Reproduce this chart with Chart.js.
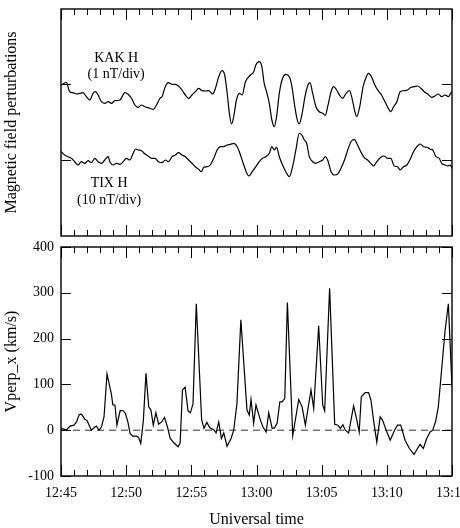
<!DOCTYPE html>
<html><head><meta charset="utf-8">
<script src="https://cdn.jsdelivr.net/npm/chart.js@4.4.1/dist/chart.umd.min.js"></script>
<style>
html,body{margin:0;padding:0;background:#fff;overflow:hidden;}
#wrap{position:relative;width:460px;height:528px;overflow:hidden;background:#fff;}
#c1{position:absolute;left:0;top:0;}
#c2{position:absolute;left:0;top:240px;}
</style></head><body>
<div id="wrap">
<canvas id="c1" width="460" height="240"></canvas>
<canvas id="c2" width="460" height="292"></canvas>
</div>
<script>
// ---- data (time in minutes after 12:45 UT) ----
const timeTickLabels = ['12:45','12:50','12:55','13:00','13:05','13:10','13:15'];
const vTickValues = [-100, 0, 100, 200, 300, 400];

// KAK H trace (graph units, 1 nT/div), zero level at kakBaseline
const kakBaseline = 152;
const kakTime = [0.02,0.41,0.67,0.92,1.18,1.44,1.69,1.95,2.21,2.46,2.64,2.85,3.1,3.36,3.62,3.87,4.13,4.52,4.9,5.15,5.41,5.67,5.92,6.18,6.44,6.82,7.08,7.33,7.59,7.75,8.0,8.25,8.52,8.77,9.02,9.28,9.54,9.79,10.05,10.31,10.56,10.82,11.08,11.33,11.64,11.85,12.1,12.36,12.56,12.75,12.92,13.08,13.25,13.46,13.69,13.9,14.15,14.54,14.79,14.95,15.21,15.41,15.59,15.77,15.98,16.18,16.36,16.54,16.75,17.0,17.25,17.52,17.72,17.9,18.1,18.28,18.48,18.72,18.92,19.1,19.31,19.56,19.82,20.08,20.28,20.46,20.72,20.92,21.15,21.41,21.62,21.87,22.13,22.33,22.52,22.69,22.92,23.18,23.38,23.59,23.82,24.08,24.33,24.59,24.79,25.05,25.31,25.52,25.77,26.02,26.33,26.59,26.85,27.1,27.36,27.62,27.87,28.13,28.44,28.69,28.95,29.21,29.46,29.72,29.92,30.0];
const kakH = [151,153.7,144.3,143.3,142,142.7,143.3,139.3,136,142.7,144.3,141,134.3,132.7,134.3,132.7,135.3,136,143.3,141.7,137.7,131,128.7,131,129.3,127.7,126.7,131,137.7,139.3,149.3,153.3,151.7,151.7,150,146,141,137.7,141,144.3,147.7,145.3,145,145.3,142,147.7,159.3,165.3,161,142.7,122.7,112,119.3,136,142.7,141,154.3,161,164.3,171,174.3,169.3,152.7,144.3,132.7,116,109.3,119.3,142.7,157.7,161.7,159.3,149.3,132.7,117.7,112,121,139.3,150,153.3,142.7,129.3,124.3,122.7,120.7,129.3,144.3,149.3,146,140,137.7,142.7,145.3,137.7,126,119.3,129.3,149.3,157.7,162.7,159.3,151,145.3,141,136,129.3,124.3,129.3,134.3,144.3,145.3,146,148.7,149.3,150,147.7,144.3,142,138.7,140,142,139.3,141,139.3,143.3,144.3];

// TIX H trace (graph units, 10 nT/div), zero level at tixBaseline
const tixBaseline = 76;
const tixTime = [0.02,0.28,0.54,0.79,1.05,1.31,1.56,1.82,2.08,2.33,2.59,2.85,3.1,3.36,3.62,3.75,4.0,4.25,4.52,4.77,5.02,5.28,5.54,5.72,5.92,6.18,6.44,6.69,6.95,7.21,7.48,7.75,8.0,8.25,8.52,8.77,9.02,9.28,9.54,9.79,10.05,10.31,10.56,10.77,10.95,11.21,11.46,11.72,11.98,12.23,12.48,12.75,13.0,13.25,13.52,13.77,13.98,14.21,14.41,14.67,14.95,15.21,15.46,15.72,15.98,16.18,16.36,16.54,16.75,17.0,17.25,17.52,17.77,18.02,18.28,18.48,18.67,18.85,19.05,19.31,19.56,19.82,20.08,20.28,20.46,20.72,20.98,21.23,21.48,21.75,22.0,22.25,22.5,22.75,23.0,23.25,23.52,23.77,23.98,24.23,24.54,24.79,25.05,25.31,25.56,25.82,26.02,26.28,26.54,26.79,27.05,27.31,27.56,27.82,28.08,28.33,28.52,28.77,29.02,29.21,29.46,29.67,29.87,30.0];
const tixH = [84.3,81,79.3,77.7,74.3,71,74.3,72.7,75.3,73.3,77.7,74.3,72.7,76,79.3,74.3,71,72.7,71.7,74.3,77.7,76,82.7,87,86,85.3,82,80,77.7,77.7,74.3,73.3,76,74.3,79.3,81,83.3,81,79.3,76,72.7,69.3,66.7,64.3,68.7,69.3,71,77.7,86,89.3,89.3,91,91.7,92.7,89.3,81,72.7,64.3,60,64.3,69.3,74.3,77.7,79.3,82.7,89.3,86,88.7,79.3,71,64.3,59.3,69.3,86,102.7,101,96,92.7,79.3,74.3,72.7,74.3,76,79.3,76,64.3,61,62,67.7,76,86,94.3,96.7,91,84.3,78.7,76,72.7,70,74.3,78.7,80,77.7,77.7,70,69.3,66,69.3,71,76.7,84.3,89.3,92,89.3,88.7,86.7,86,79.3,77.7,72.7,71,70,71,67.7];

// Vperp_x (km/s)
const vTime = [0,0.43,0.69,1.0,1.19,1.4,1.57,1.83,2.0,2.33,2.6,2.72,2.92,3.1,3.3,3.53,3.86,3.98,4.14,4.29,4.54,4.8,4.95,5.13,5.3,5.5,5.8,5.96,6.12,6.32,6.52,6.73,6.9,7.08,7.28,7.49,7.72,7.94,8.17,8.38,8.68,8.98,9.14,9.32,9.52,9.75,9.93,10.13,10.38,10.79,10.97,11.19,11.42,11.72,11.9,12.1,12.31,12.49,12.74,13.05,13.25,13.5,13.8,14.27,14.45,14.58,14.78,14.96,15.3,15.5,15.74,15.94,16.2,16.38,16.58,16.79,16.96,17.17,17.37,17.78,18.24,18.5,18.75,19.18,19.39,19.77,20.08,20.23,20.61,21.0,21.25,21.43,21.63,21.81,22.07,22.45,22.7,22.88,23.04,23.34,23.6,23.78,23.98,24.23,24.49,24.67,24.95,25.26,25.59,25.82,26.07,26.4,26.73,27.09,27.35,27.55,27.8,28.06,28.32,28.52,28.75,28.95,29.2,29.46,29.72,30.0];
const vperpX = [4,1,9,11,18,34,35,24,21,0,7,9,0,7,29,123,80,55,55,11,43,42,36,18,-7,-13,-13,-16,-29,22,124,51,44,11,38,13,18,28,7,-18,-28,-36,-28,88,94,42,38,58,276,23,4,17,5,1,-6,18,-18,-6,-35,-18,0,58,241,44,33,67,15,55,22,7,-4,38,4,5,15,62,62,69,279,-12,67,51,11,88,47,228,55,42,310,13,11,4,12,0,-6,53,22,-4,73,82,82,66,22,-26,29,22,0,-22,0,11,11,-22,-40,-53,-40,-31,-40,-18,-4,0,20,51,131,215,276,95];

const FONT = "'Liberation Serif','Times New Roman',serif";
const pts = (xs, ys) => xs.map((x, i) => ({x, y: ys[i]}));

// frame + inward ticks drawn with the chart's own scales
const frameTicks = {
  id: 'frameTicks',
  afterDraw(chart, args, opts) {
    const ctx = chart.ctx, a = chart.chartArea, xs = chart.scales.x, ys = chart.scales.y;
    ctx.save();
    ctx.strokeStyle = '#000';
    ctx.lineWidth = 1;
    for (let m = 0; m <= 30; m++) {
      const px = Math.round(xs.getPixelForValue(m)) + 0.5;
      const len = m % 5 === 0 ? 11 : 6;
      ctx.beginPath();
      ctx.moveTo(px, a.top); ctx.lineTo(px, a.top + len);
      ctx.moveTo(px, a.bottom); ctx.lineTo(px, a.bottom - len);
      ctx.stroke();
    }
    for (const v of opts.yTicks) {
      const py = Math.round(ys.getPixelForValue(v)) + 0.5;
      ctx.beginPath();
      ctx.moveTo(a.left, py); ctx.lineTo(a.left + opts.yLen, py);
      ctx.moveTo(a.right, py); ctx.lineTo(a.right - opts.yLen, py);
      ctx.stroke();
    }
    ctx.lineWidth = 1.4;
    ctx.strokeRect(a.left, a.top, a.right - a.left, a.bottom - a.top);
    if (opts.texts) {
      ctx.fillStyle = '#000';
      ctx.textAlign = 'center';
      ctx.textBaseline = 'alphabetic';
      ctx.font = '14px ' + FONT;
      for (const t of opts.texts) {
        ctx.fillText(t.text, xs.getPixelForValue(t.x), ys.getPixelForValue(t.y));
      }
    }
    ctx.restore();
  }
};

function zeroPad(s) { s.paddingLeft = 0; s.paddingRight = 0; s.paddingTop = 0; s.paddingBottom = 0; }

// ---- top panel ----
new Chart(document.getElementById('c1'), {
  type: 'line',
  data: {
    datasets: [
      {data: pts(kakTime, kakH), borderColor: '#000', borderWidth: 1.2, pointRadius: 0, cubicInterpolationMode: 'monotone', fill: false},
      {data: pts(tixTime, tixH), borderColor: '#000', borderWidth: 1.2, pointRadius: 0, cubicInterpolationMode: 'monotone', fill: false}
    ]
  },
  options: {
    responsive: false, animation: false, devicePixelRatio: 1,
    layout: {padding: {left: 0, top: 9, right: 8, bottom: 4}},
    plugins: {
      legend: {display: false}, tooltip: {enabled: false},
      frameTicks: {
        yTicks: [kakBaseline, tixBaseline], yLen: 10,
        texts: [
          {text: 'KAK H', x: 4.23, y: 174.3},
          {text: '(1 nT/div)', x: 4.23, y: 158.3},
          {text: 'TIX H', x: 3.69, y: 49},
          {text: '(10 nT/div)', x: 3.69, y: 32.5}
        ]
      }
    },
    scales: {
      x: {type: 'linear', min: 0, max: 30, display: false},
      y: {
        type: 'linear', min: 0, max: 227,
        grid: {display: false, drawTicks: false}, border: {display: false},
        ticks: {display: false},
        title: {display: true, text: 'Magnetic field perturbations', color: '#000',
                font: {family: FONT, size: 16}, padding: {top: 2, bottom: 0}},
        afterFit(s) { s.width = 61; zeroPad(s); }
      }
    }
  },
  plugins: [frameTicks]
});

// ---- bottom panel ----
new Chart(document.getElementById('c2'), {
  type: 'line',
  data: {
    datasets: [
      {data: pts(vTime, vperpX), borderColor: '#000', borderWidth: 1.2, pointRadius: 0, tension: 0, fill: false},
      {data: [{x: 0, y: 0}, {x: 30, y: 0}], borderColor: '#333', borderWidth: 1, borderDash: [7, 5], pointRadius: 0, fill: false}
    ]
  },
  options: {
    responsive: false, animation: false, devicePixelRatio: 1,
    layout: {padding: {left: 0, top: 7, right: 8, bottom: 0}},
    plugins: {
      legend: {display: false}, tooltip: {enabled: false},
      frameTicks: {yTicks: vTickValues, yLen: 10}
    },
    scales: {
      x: {
        type: 'linear', min: 0, max: 30,
        grid: {display: false, drawTicks: false}, border: {display: false},
        ticks: {stepSize: 5, autoSkip: false, maxRotation: 0, padding: 8.6, color: '#000',
                font: {family: FONT, size: 14},
                callback: v => timeTickLabels[Math.round(v / 5)]},
        title: {display: true, text: 'Universal time', color: '#000',
                font: {family: FONT, size: 16}, padding: {top: 0, bottom: 2.4}},
        afterFit(s) { s.height = 56; zeroPad(s); }
      },
      y: {
        type: 'linear', min: -100, max: 400,
        grid: {display: false, drawTicks: false}, border: {display: false},
        ticks: {stepSize: 100, padding: 7, color: '#000', font: {family: FONT, size: 14}},
        title: {display: true, text: 'Vperp_x (km/s)', color: '#000',
                font: {family: FONT, size: 16}, padding: {top: 2, bottom: 0}},
        afterFit(s) { s.width = 61; zeroPad(s); }
      }
    }
  },
  plugins: [frameTicks]
});
</script>
</body></html>
